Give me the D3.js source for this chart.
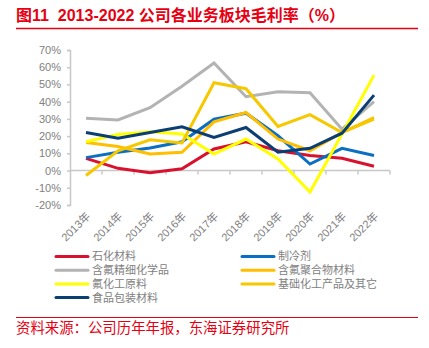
<!DOCTYPE html>
<html>
<head>
<meta charset="utf-8">
<script src="https://cdn.jsdelivr.net/npm/d3@7"></script>
<style>
  body { margin: 0; background: #fff; }
  svg { display: block; font-family: "Liberation Sans", "Noto Sans CJK SC", sans-serif; }
</style>
</head>
<body>
<div id="chart"></div>
<script>
// years and gross margin (%) per business segment
var years = ["2013年", "2014年", "2015年", "2016年", "2017年", "2018年", "2019年", "2020年", "2021年", "2022年"];
var petrochem   = [7.1, 1.3, -1.2, 1.0, 12.5, 16.7, 11.5, 8.7, 7.1, 2.5];
var refrigerant = [7.5, 10.6, 13.1, 16.7, 29.8, 33.3, 20.2, 3.8, 12.9, 8.7];
var fineChem    = [30.4, 29.4, 36.5, 49.0, 62.5, 42.9, 45.8, 45.2, 24.0, 40.0];
var polymer     = [16.3, 14.0, 9.6, 10.6, 28.3, 33.7, 18.3, 11.5, 22.1, 30.8];
var rawMaterial = [16.7, 21.0, 22.5, 21.2, 9.6, 18.3, 6.7, -12.5, 21.2, 55.4];
var basicChem   = [-2.9, 11.5, 17.9, 16.0, 51.0, 47.5, 25.6, 32.5, 22.1, 29.8];
var packaging   = [22.1, 18.8, 22.1, 25.4, 19.2, 25.0, 10.6, 12.9, 21.7, 43.8];
var yTicks = [-20, -10, 0, 10, 20, 30, 40, 50, 60, 70];

var series = [
  { name: "石化材料", values: petrochem, color: "#d9112e" },
  { name: "制冷剂", values: refrigerant, color: "#0a6fc2" },
  { name: "含氟精细化学品", values: fineChem, color: "#b3b3b3" },
  { name: "含氟聚合物材料", values: polymer, color: "#ffbf00" },
  { name: "氟化工原料", values: rawMaterial, color: "#ffff00" },
  { name: "基础化工产品及其它", values: basicChem, color: "#f5c800" },
  { name: "食品包装材料", values: packaging, color: "#0b3f73" }
];

var w = 429, h = 348;
var red = "#e60012", axisGray = "#c8c8c8", textGray = "#808080";

var svg = d3.select("#chart").append("svg")
    .attr("width", w)
    .attr("height", h);

// title + rule
svg.append("text")
    .attr("x", 16).attr("y", 21)
    .attr("fill", red)
    .attr("font-size", "16px")
    .attr("font-weight", "bold")
    .style("white-space", "pre")
    .text("图11  2013-2022 公司各业务板块毛利率（%）");
svg.append("line")
    .attr("x1", 16).attr("x2", 418).attr("y1", 28.5).attr("y2", 28.5)
    .attr("stroke", red).attr("stroke-width", 1.5);

var xScale = d3.scaleBand().domain(years).range([70, 390]);
var yScale = d3.scaleLinear().domain([-20, 70]).range([205, 50]);

// y axis
var yAxis = d3.axisLeft(yScale)
    .tickValues(yTicks)
    .tickSize(3)
    .tickFormat(function (d) { return d + "%"; });
var gy = svg.append("g")
    .attr("transform", "translate(70,0)")
    .call(yAxis);
gy.select(".domain").attr("stroke", axisGray).attr("stroke-width", 1.5);
gy.selectAll(".tick line").attr("stroke", axisGray).attr("stroke-width", 1.5);
gy.selectAll(".tick text")
    .attr("x", -9)
    .attr("fill", textGray)
    .attr("font-size", "11px")
    .attr("font-family", "Liberation Sans, sans-serif");

// x axis at 0%, ticks at band edges
var gx = svg.append("g")
    .attr("transform", "translate(0," + yScale(0) + ")");
gx.append("line")
    .attr("x1", 70).attr("x2", 390)
    .attr("stroke", axisGray).attr("stroke-width", 1.5);
gx.selectAll(".xtick")
    .data(years)
    .enter()
    .append("line")
    .attr("class", "xtick")
    .attr("x1", function (d) { return xScale(d) + xScale.bandwidth(); })
    .attr("x2", function (d) { return xScale(d) + xScale.bandwidth(); })
    .attr("y1", 0).attr("y2", 4)
    .attr("stroke", axisGray).attr("stroke-width", 1.5);

// category labels sit below the plot
svg.selectAll(".xlabel")
    .data(years)
    .enter()
    .append("text")
    .attr("class", "xlabel")
    .attr("transform", function (d) {
        return "translate(" + (xScale(d) + xScale.bandwidth() / 2 + 5) + "," + (yScale(-20) + 12) + ") rotate(-45)";
    })
    .attr("text-anchor", "end")
    .attr("fill", textGray)
    .attr("font-size", "11px")
    .text(function (d) { return d; });

// lines
var line = d3.line()
    .x(function (d, i) { return xScale(years[i]) + xScale.bandwidth() / 2; })
    .y(function (d) { return yScale(d); });

svg.selectAll(".series")
    .data(series)
    .enter()
    .append("path")
    .attr("class", "series")
    .attr("d", function (d) { return line(d.values); })
    .attr("fill", "none")
    .attr("stroke", function (d) { return d.color; })
    .attr("stroke-width", 3)
    .attr("stroke-linejoin", "miter");

// legend, two columns
var legend = svg.selectAll(".legend")
    .data(series)
    .enter()
    .append("g")
    .attr("class", "legend")
    .attr("transform", function (d, i) {
        var col = i % 2, row = Math.floor(i / 2);
        return "translate(" + (col ? 242 : 56) + "," + (256.5 + row * 13.7) + ")";
    });
legend.append("line")
    .attr("x1", 0).attr("x2", 32)
    .attr("stroke", function (d) { return d.color; })
    .attr("stroke-width", 3)
    .attr("stroke-linecap", "round");
legend.append("text")
    .attr("x", 36)
    .attr("dy", "0.36em")
    .attr("fill", textGray)
    .attr("font-size", "11px")
    .text(function (d) { return d.name; });

// source
svg.append("line")
    .attr("x1", 16).attr("x2", 418).attr("y1", 317.5).attr("y2", 317.5)
    .attr("stroke", red).attr("stroke-width", 1.2);
svg.append("text")
    .attr("x", 16).attr("y", 333)
    .attr("fill", red)
    .attr("font-size", "14.4px")
    .text("资料来源：公司历年年报，东海证券研究所");
</script>
</body>
</html>
